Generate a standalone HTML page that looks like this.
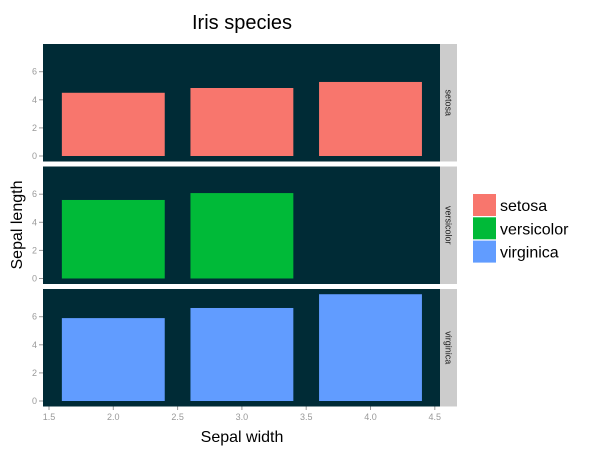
<!DOCTYPE html>
<html><head><meta charset="utf-8"><style>
body{margin:0;background:#fff}
svg{display:block;font-family:"Liberation Sans",sans-serif}
</style></head><body>
<svg id="c" width="604" height="452"></svg>
<script>
const species=["setosa","versicolor","virginica"];
const colors=["#F8766D","#00BA38","#619CFF"];
const xCats=[[2,3,4],[2,3],[2,3,4]];
const yVals=[[4.5,4.84,5.27],[5.59,6.08],[5.9,6.62,7.6]];
const xTicks=[1.5,2.0,2.5,3.0,3.5,4.0,4.5];
const yTicks=[0,2,4,6];
const NS="http://www.w3.org/2000/svg";
const svg=document.getElementById('c');
function mk(t,a,p){const e=document.createElementNS(NS,t);for(const k in a)e.setAttribute(k,a[k]);(p||svg).appendChild(e);return e;}
const px0=43,px1=440,ph=117.5,tops=[44,166.5,289];
const xs=v=>49+(v-1.5)*128.6;
const ys=(v,top)=>top+112-v*14.05;
let t=mk('text',{x:242,y:29,'text-anchor':'middle','font-size':20,fill:'#000'});t.textContent='Iris species';


species.forEach((s,i)=>{
 const top=tops[i];
 const p=mk('rect',{x:px0,y:top,width:px1-px0,height:ph,fill:'#002B36'});
 
 
 const st=mk('rect',{x:px1,y:top,width:17,height:ph,fill:'#CCCCCC'});
 
 
 const lt=mk('text',{x:0,y:0,'font-size':9,fill:'#1a1a1a','text-anchor':'middle',transform:`translate(${px1+5.5},${top+ph/2}) rotate(90)`});
 lt.textContent=s;
 
 
 yTicks.forEach(v=>{
  const y=ys(v,top);
  mk('line',{x1:px0-4,x2:px0,y1:y,y2:y,stroke:'#999'});
  const tt=mk('text',{x:px0-6,y:y+3,'text-anchor':'end','font-size':9,fill:'#999'});tt.textContent=v;
  
  
 });
 xCats[i].forEach((c,j)=>{
  const v=yVals[i][j];
  const b=mk('rect',{x:xs(c-0.4),y:ys(v,top),width:xs(c+0.4)-xs(c-0.4),height:ys(0,top)-ys(v,top),fill:colors[i]});
  
  
 });
});
xTicks.forEach(v=>{
 const x=xs(v);
 mk('line',{x1:x,x2:x,y1:406.5,y2:410,stroke:'#999'});
 const tt=mk('text',{x:x,y:420,'text-anchor':'middle','font-size':9,fill:'#999'});tt.textContent=v.toFixed(1);
 
 
});
t=mk('text',{x:242,y:442,'text-anchor':'middle','font-size':16,fill:'#000'});t.textContent='Sepal width';


t=mk('text',{x:0,y:0,'text-anchor':'middle','font-size':16,fill:'#000',transform:'translate(22,225) rotate(-90)'});t.textContent='Sepal length';


species.forEach((s,i)=>{
 const y=194+i*23.3;
 const k=mk('rect',{x:473,y:y,width:23,height:22,fill:colors[i]});
 
 
 const l=mk('text',{x:500,y:y+17,'font-size':16,fill:'#000'});l.textContent=s;
 
 
});
</script>
</body></html>
